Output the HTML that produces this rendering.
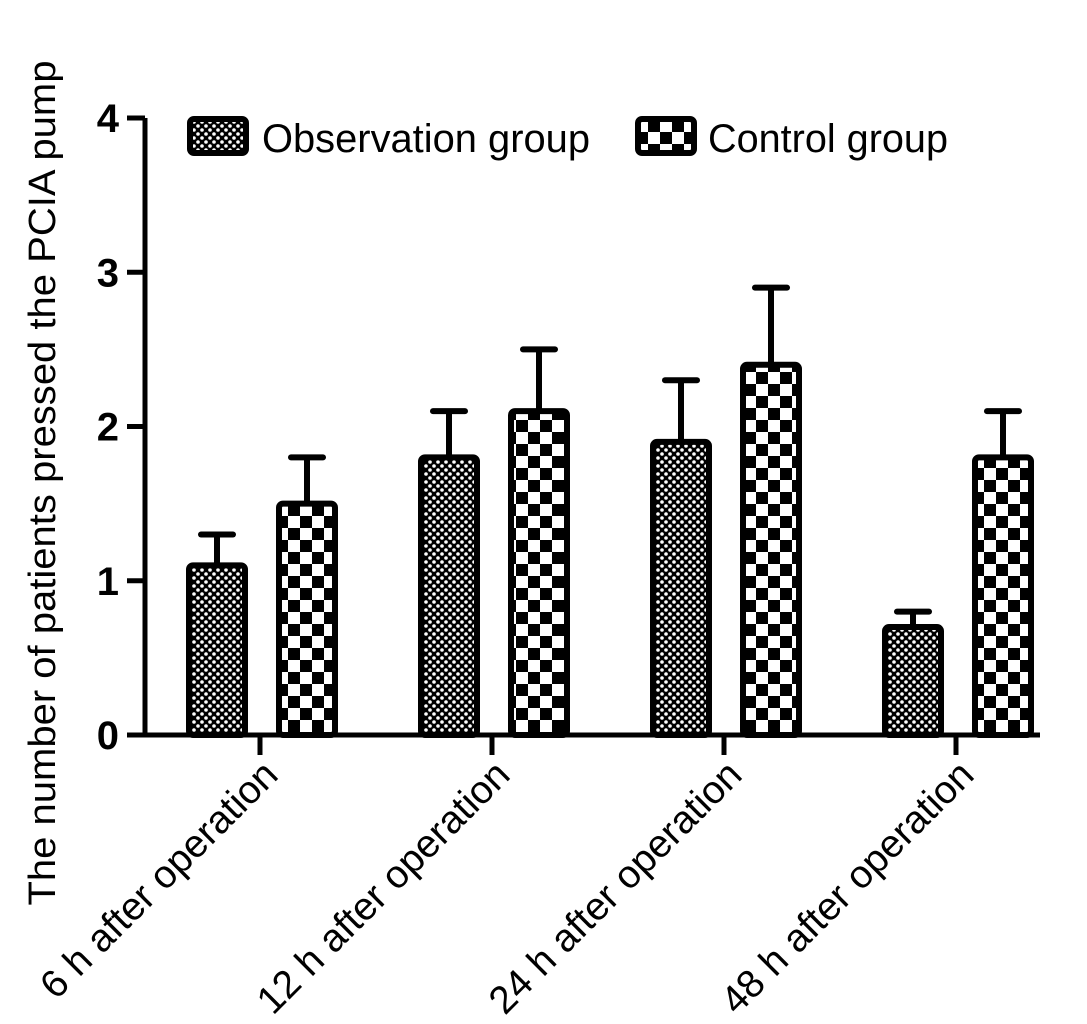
<!DOCTYPE html>
<html><head><meta charset="utf-8"><style>
html,body{margin:0;padding:0;background:#fff;}
svg{display:block;font-family:"Liberation Sans",Arial,sans-serif;}
</style></head><body>
<svg id="chart" width="1087" height="1024" viewBox="0 0 1087 1024">
<defs>
<pattern id="dots" width="8" height="8" patternUnits="userSpaceOnUse">
<rect width="8" height="8" fill="#000"/>
<circle cx="2" cy="2" r="1.8" fill="#fff"/><circle cx="6" cy="6" r="1.8" fill="#fff"/>
</pattern>
<pattern id="checker" width="24" height="24" patternUnits="userSpaceOnUse">
<rect width="24" height="24" fill="#fff"/>
<rect width="12" height="12" fill="#000"/><rect x="12" y="12" width="12" height="12" fill="#000"/>
</pattern>
</defs>
<g id="axes"></g>
<g id="bars"></g>
<text transform="translate(55,483) rotate(-90)" text-anchor="middle" font-size="38" textLength="845" lengthAdjust="spacingAndGlyphs">The number of patients pressed the PCIA pump</text>
<g>
<rect x="190" y="119" width="56" height="34" rx="4" fill="url(#dots)" stroke="#000" stroke-width="6"/>
<text x="262" y="152" font-size="40" textLength="328" lengthAdjust="spacingAndGlyphs">Observation group</text>
<rect x="638" y="119" width="56" height="34" rx="4" fill="url(#checker)" stroke="#000" stroke-width="6"/>
<text x="708" y="152" font-size="40" textLength="240" lengthAdjust="spacingAndGlyphs">Control group</text>
</g>
</svg>
<script>
const categories = ["6 h after operation","12 h after operation","24 h after operation","48 h after operation"];
const obsValues = [1.1, 1.8, 1.9, 0.7];
const obsErrors = [0.2, 0.3, 0.4, 0.1];
const ctrlValues = [1.5, 2.1, 2.4, 1.8];
const ctrlErrors = [0.3, 0.4, 0.5, 0.3];
const yTicks = [0, 1, 2, 3, 4];

const NS = "http://www.w3.org/2000/svg";
const y0 = 735, yTop = 118, yMax = 4;
const yScale = v => y0 - (v / yMax) * (y0 - yTop);
const xAxisLeft = 145, groupStart = 186, groupW = 232, barW = 62, gap = 28;
const xObs = i => groupStart + i * groupW;
const xCtrl = i => xObs(i) + barW + gap;
function el(tag, attrs, parent){const e=document.createElementNS(NS,tag);for(const k in attrs)e.setAttribute(k,attrs[k]);parent.appendChild(e);return e;}
const axes = document.getElementById('axes'), bars = document.getElementById('bars');

const yAxis = el('line',{x1:xAxisLeft,y1:y0,x2:xAxisLeft,y2:yTop,stroke:'#000','stroke-width':5},axes);


const xAxis = el('line',{x1:xAxisLeft-2,y1:y0,x2:1040,y2:y0,stroke:'#000','stroke-width':5},axes);


yTicks.forEach(t=>{
  const y=yScale(t);
  const tk=el('line',{x1:xAxisLeft-18,y1:y,x2:xAxisLeft,y2:y,stroke:'#000','stroke-width':5},axes);
  
  
  const lb=el('text',{x:xAxisLeft-26,y:y+14,'text-anchor':'end','font-size':40,'font-weight':'bold'},axes);
  lb.textContent=t;
  
  
});
function drawBar(x,v,e,fill,name){
  const yv=yScale(v), ye=yScale(v+e), cx=x+barW/2;
  const w=el('line',{x1:cx,y1:yv,x2:cx,y2:ye,stroke:'#000','stroke-width':6},bars);
  
  
  const cap=el('line',{x1:cx-16,y1:ye,x2:cx+16,y2:ye,stroke:'#000','stroke-width':6,'stroke-linecap':'round'},bars);
  
  
  const r=el('rect',{x:x+3,y:yv,width:barW-6,height:y0-yv,rx:4,fill:fill,stroke:'#000','stroke-width':6},bars);
  
  
}
categories.forEach((c,i)=>{
  drawBar(xObs(i),obsValues[i],obsErrors[i],'url(#dots)','bar-observation-'+(i+1));
  drawBar(xCtrl(i),ctrlValues[i],ctrlErrors[i],'url(#checker)','bar-control-'+(i+1));
  const tx=xObs(i)+74;
  const tk=el('line',{x1:tx,y1:y0,x2:tx,y2:y0+20,stroke:'#000','stroke-width':5},axes);
  
  
  const lb=el('text',{transform:`translate(${tx+20},${y0+42}) rotate(-45)`,'text-anchor':'end','font-size':39},axes);
  lb.textContent=c;
  
  
});
</script>
</body></html>
